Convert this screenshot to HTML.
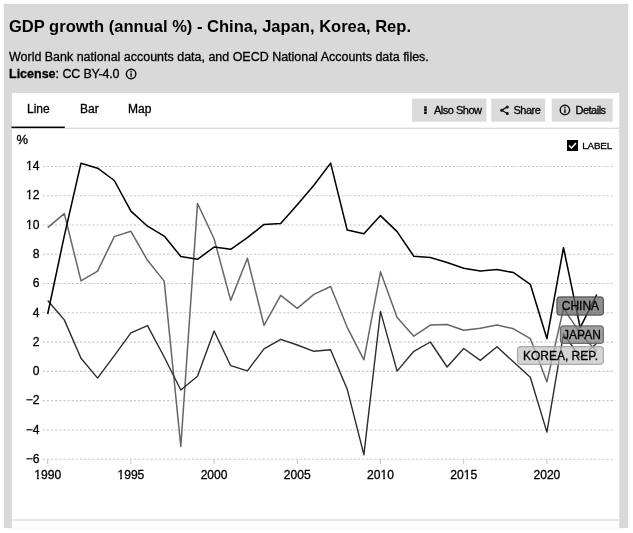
<!DOCTYPE html>
<html><head><meta charset="utf-8"><title>GDP growth (annual %)</title>
<style>
html,body{margin:0;padding:0;background:#fff;}
body{width:633px;height:533px;position:relative;overflow:hidden;font-family:"Liberation Sans",Arial,sans-serif;color:#000;}
#box{position:absolute;left:4px;top:4px;width:622px;height:522px;background:#d9d9d9;border:1px solid #d5d5d5;box-shadow:0 0 1px rgba(0,0,0,.1);}
#title{position:absolute;left:9px;top:17px;font-size:16.54px;font-weight:bold;white-space:nowrap;line-height:20px;}
#sub{position:absolute;left:9px;top:49px;font-size:12.47px;line-height:16px;white-space:nowrap;}
#lic{position:absolute;left:9px;top:66px;font-size:12.5px;line-height:16px;white-space:nowrap;}
.tab{position:absolute;top:102px;font-size:12px;line-height:14px;}
.bt{position:absolute;top:98.5px;height:23px;font-size:11px;line-height:23px;white-space:nowrap;letter-spacing:-0.5px;}
svg{position:absolute;left:0;top:0;}
svg text{font-family:"Liberation Sans",Arial,sans-serif;fill:#000;stroke:#000;stroke-width:0.3px;}
#sub,#lic,.tab,.bt{-webkit-text-stroke:0.3px #000;}
#wrap{position:absolute;left:0;top:0;width:633px;height:533px;will-change:transform;}
</style></head><body><div id="wrap">
<div id="box"></div>
<svg width="633" height="533" viewBox="0 0 633 533">
<rect x="11.9" y="92.9" width="607.3" height="435.0" fill="#fff"/>
<rect x="11.9" y="127.7" width="607.3" height="1.1" fill="#d2d2d2"/>
<rect x="11.5" y="126.55" width="53.3" height="1.5" fill="#000"/>
<rect x="11.9" y="519.4" width="607.3" height="1.2" fill="#dadada"/>
<rect x="412.1" y="98.6" width="74.3" height="23.1" fill="#dadada"/>
<rect x="491.3" y="98.6" width="53.8" height="23.1" fill="#dadada"/>
<rect x="551.7" y="98.6" width="60.9" height="23.1" fill="#dadada"/>
</svg>
<div id="title">GDP growth (annual %) - China, Japan, Korea, Rep.</div>
<div id="sub">World Bank national accounts data, and OECD National Accounts data files.</div>
<div id="lic"><b>License</b>: <span style="letter-spacing:-0.22px">CC BY-4.0</span></div>
<div class="tab" style="left:27px">Line</div>
<div class="tab" style="left:80px">Bar</div>
<div class="tab" style="left:128px">Map</div>
<div class="bt" style="left:434px;">Also Show</div>
<div class="bt" style="left:513.5px;">Share</div>
<div class="bt" style="left:575.5px;">Details</div>
<svg width="633" height="533" viewBox="0 0 633 533">
<defs><clipPath id="k0"><path clip-rule="evenodd" d="M23.04 214.70 H42.50 V233.70 H23.04 Z M25.74 226.20 H28.78 V230.20 H25.74 Z M30.45 226.20 H32.67 V230.20 H30.45 Z"/></clipPath><clipPath id="k1"><path clip-rule="evenodd" d="M23.04 185.43 H42.50 V204.43 H23.04 Z M25.74 196.93 H28.78 V200.93 H25.74 Z M30.45 196.93 H32.67 V200.93 H30.45 Z"/></clipPath><clipPath id="k2"><path clip-rule="evenodd" d="M23.04 156.15 H42.50 V175.15 H23.04 Z M25.74 167.65 H28.78 V171.65 H25.74 Z M30.45 167.65 H32.67 V171.65 H30.45 Z"/></clipPath><clipPath id="k3"><path clip-rule="evenodd" d="M31.24 465.30 H64.16 V484.30 H31.24 Z M33.94 476.80 H36.98 V480.80 H33.94 Z M38.65 476.80 H40.87 V480.80 H38.65 Z"/></clipPath><clipPath id="k4"><path clip-rule="evenodd" d="M114.44 465.30 H147.36 V484.30 H114.44 Z M117.14 476.80 H120.18 V480.80 H117.14 Z M121.85 476.80 H124.07 V480.80 H121.85 Z"/></clipPath><clipPath id="k5"><path clip-rule="evenodd" d="M364.04 465.30 H396.96 V484.30 H364.04 Z M380.20 476.80 H383.24 V480.80 H380.20 Z M384.91 476.80 H387.13 V480.80 H384.91 Z"/></clipPath><clipPath id="k6"><path clip-rule="evenodd" d="M447.24 465.30 H480.16 V484.30 H447.24 Z M463.40 476.80 H466.44 V480.80 H463.40 Z M468.11 476.80 H470.33 V480.80 H468.11 Z"/></clipPath></defs>
<text x="16.5" y="144" font-size="13">%</text>
<circle cx="131.1" cy="74" r="4.75" fill="none" stroke="#000" stroke-width="1.4"/>
<rect x="130.4" y="71" width="1.4" height="1.4" fill="#000"/><rect x="130.4" y="73.2" width="1.4" height="3.6" fill="#000"/>
<g fill="#111"><rect x="424.1" y="106.3" width="2.7" height="2.35"/><rect x="424.1" y="109" width="2.7" height="2.35"/><rect x="424.1" y="111.7" width="2.7" height="2.35"/></g>
<g fill="#111"><path d="M507.3 106.9 L501.7 110.2 L507.3 113.5" fill="none" stroke="#111" stroke-width="1.3"/><circle cx="507.3" cy="106.9" r="1.5"/><circle cx="501.7" cy="110.2" r="1.5"/><circle cx="507.3" cy="113.5" r="1.5"/></g>
<circle cx="564.9" cy="109.95" r="4.7" fill="none" stroke="#000" stroke-width="1.4"/>
<rect x="564.2" y="106.95" width="1.4" height="1.4" fill="#000"/><rect x="564.2" y="109.2" width="1.4" height="3.8" fill="#000"/>
<line x1="42.7" x2="613.2" y1="459.20" y2="459.20" stroke="#c6c6c6" stroke-width="1.1" stroke-dasharray="2.2,1.946"/>
<text x="39.5" y="462.90" text-anchor="end" font-size="12.1">−6</text>
<line x1="42.7" x2="613.2" y1="429.93" y2="429.93" stroke="#c6c6c6" stroke-width="1.1" stroke-dasharray="2.2,1.946"/>
<text x="39.5" y="433.62" text-anchor="end" font-size="12.1">−4</text>
<line x1="42.7" x2="613.2" y1="400.65" y2="400.65" stroke="#c6c6c6" stroke-width="1.1" stroke-dasharray="2.2,1.946"/>
<text x="39.5" y="404.35" text-anchor="end" font-size="12.1">−2</text>
<line x1="42.7" x2="613.2" y1="371.38" y2="371.38" stroke="#c6c6c6" stroke-width="1.1" stroke-dasharray="2.2,1.946"/>
<text x="32.77" y="375.07" font-size="12.1">0</text>
<line x1="42.7" x2="613.2" y1="342.10" y2="342.10" stroke="#c6c6c6" stroke-width="1.1" stroke-dasharray="2.2,1.946"/>
<text x="32.77" y="345.80" font-size="12.1">2</text>
<line x1="42.7" x2="613.2" y1="312.82" y2="312.82" stroke="#c6c6c6" stroke-width="1.1" stroke-dasharray="2.2,1.946"/>
<text x="32.77" y="316.52" font-size="12.1">4</text>
<line x1="42.7" x2="613.2" y1="283.55" y2="283.55" stroke="#c6c6c6" stroke-width="1.1" stroke-dasharray="2.2,1.946"/>
<text x="32.77" y="287.25" font-size="12.1">6</text>
<line x1="42.7" x2="613.2" y1="254.28" y2="254.28" stroke="#c6c6c6" stroke-width="1.1" stroke-dasharray="2.2,1.946"/>
<text x="32.77" y="257.98" font-size="12.1">8</text>
<line x1="42.7" x2="613.2" y1="225.00" y2="225.00" stroke="#c6c6c6" stroke-width="1.1" stroke-dasharray="2.2,1.946"/>
<text x="26.04" y="228.70" font-size="12.1" clip-path="url(#k0)">10</text>
<line x1="42.7" x2="613.2" y1="195.73" y2="195.73" stroke="#c6c6c6" stroke-width="1.1" stroke-dasharray="2.2,1.946"/>
<text x="26.04" y="199.43" font-size="12.1" clip-path="url(#k1)">12</text>
<line x1="42.7" x2="613.2" y1="166.45" y2="166.45" stroke="#c6c6c6" stroke-width="1.1" stroke-dasharray="2.2,1.946"/>
<text x="26.04" y="170.15" font-size="12.1" clip-path="url(#k2)">14</text>
<line x1="47.7" x2="47.7" y1="459.2" y2="464" stroke="#c6c6c6"/>
<text x="34.24" y="479.30" font-size="12.1" clip-path="url(#k3)">1990</text>
<line x1="130.9" x2="130.9" y1="459.2" y2="464" stroke="#c6c6c6"/>
<text x="117.44" y="479.30" font-size="12.1" clip-path="url(#k4)">1995</text>
<line x1="214.1" x2="214.1" y1="459.2" y2="464" stroke="#c6c6c6"/>
<text x="200.64" y="479.30" font-size="12.1">2000</text>
<line x1="297.3" x2="297.3" y1="459.2" y2="464" stroke="#c6c6c6"/>
<text x="283.84" y="479.30" font-size="12.1">2005</text>
<line x1="380.5" x2="380.5" y1="459.2" y2="464" stroke="#c6c6c6"/>
<text x="367.04" y="479.30" font-size="12.1" clip-path="url(#k5)">2010</text>
<line x1="463.7" x2="463.7" y1="459.2" y2="464" stroke="#c6c6c6"/>
<text x="450.24" y="479.30" font-size="12.1" clip-path="url(#k6)">2015</text>
<line x1="546.9" x2="546.9" y1="459.2" y2="464" stroke="#c6c6c6"/>
<text x="533.44" y="479.30" font-size="12.1">2020</text>

<polyline points="47.7,227.6 64.3,213.6 81.0,280.9 97.6,271.1 114.3,236.6 130.9,231.3 147.5,260.3 164.2,281.1 180.8,446.5 197.5,203.5 214.1,238.8 230.7,300.4 247.4,258.2 264.0,325.3 280.7,295.3 297.3,308.3 313.9,294.4 330.6,286.5 347.2,327.3 363.9,359.8 380.5,271.8 397.1,317.4 413.8,336.2 430.4,325.1 447.1,324.5 463.7,330.2 480.3,328.2 497.0,325.1 513.6,328.8 530.3,338.6 546.9,381.8 563.5,308.4 580.2,333.2 596.8,351.5" fill="none" stroke="#666" stroke-width="1.5" stroke-linejoin="round"/>
<polyline points="47.7,300.5 64.3,319.9 81.0,358.2 97.6,378.1 114.3,355.6 130.9,332.9 147.5,325.6 164.2,357.0 180.8,390.0 197.5,376.2 214.1,331.0 230.7,365.7 247.4,370.8 264.0,348.8 280.7,339.3 297.3,345.0 313.9,351.3 330.6,349.7 347.2,389.2 363.9,454.7 380.5,311.4 397.1,371.1 413.8,351.3 430.4,342.0 447.1,367.0 463.7,348.5 480.3,360.4 497.0,346.8 513.6,362.0 530.3,377.2 546.9,432.1 563.5,333.9 580.2,357.5 596.8,343.3" fill="none" stroke="#2c2c2c" stroke-width="1.4" stroke-linejoin="round"/>
<polyline points="47.7,314.0 64.3,235.8 81.0,163.2 97.6,168.2 114.3,180.5 130.9,211.1 147.5,226.2 164.2,236.1 180.8,256.5 197.5,259.3 214.1,247.1 230.7,249.3 247.4,237.7 264.0,224.4 280.7,223.4 297.3,204.7 313.9,185.2 330.6,163.1 347.2,230.1 363.9,233.8 380.5,215.6 397.1,231.6 413.8,256.3 430.4,257.6 447.1,262.6 463.7,268.3 480.3,271.1 497.0,269.6 513.6,272.6 530.3,284.3 546.9,338.6 563.5,247.7 580.2,327.6 596.8,294.5" fill="none" stroke="#000" stroke-width="1.55" stroke-linejoin="round"/>
<rect x="567" y="140" width="11" height="11" fill="#000"/>
<path d="M569 145.5 l2.5 2.5 l4.5 -5" fill="none" stroke="#fff" stroke-width="1.5"/>
<text x="582.2" y="148.9" font-size="9.9" style="letter-spacing:-0.17px">LABEL</text>
<g>
<rect x="556.9" y="296.9" width="46.5" height="18.2" rx="3.2" fill="#626262" fill-opacity="0.72" stroke="#3c3c3c" stroke-opacity="0.8" stroke-width="1.2"/>
<text x="580.4" y="309.9" text-anchor="middle" font-size="12">CHINA</text>
<rect x="560.4" y="325.9" width="43" height="17.5" rx="3.2" fill="#7b7b7b" fill-opacity="0.72" stroke="#555" stroke-opacity="0.8" stroke-width="1.2"/>
<text x="582" y="338.8" text-anchor="middle" font-size="12">JAPAN</text>
<rect x="517.5" y="346.6" width="85.9" height="17.7" rx="3.2" fill="#c3c3c3" fill-opacity="0.72" stroke="#999" stroke-opacity="0.8" stroke-width="1.2"/>
<text x="560.5" y="359.5" text-anchor="middle" font-size="12">KOREA, REP.</text>
</g>
</svg>
</div></body></html>
